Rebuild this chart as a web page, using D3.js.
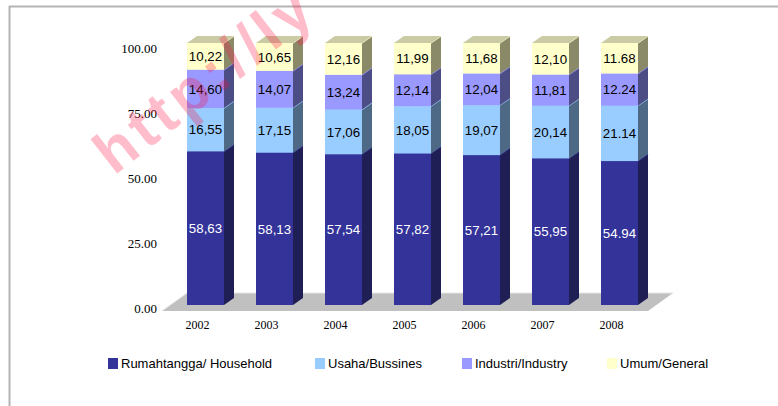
<!DOCTYPE html>
<html>
<head>
<meta charset="utf-8">
<script src="https://cdn.jsdelivr.net/npm/d3@7"></script>
<style>
  html, body { margin: 0; padding: 0; background: #fff; }
  svg { display: block; }
</style>
</head>
<body>
<svg id="chart" width="778" height="406"></svg>
<script>
const years = ["2002", "2003", "2004", "2005", "2006", "2007", "2008"];
const household = [58.63, 58.13, 57.54, 57.82, 57.21, 55.95, 54.94];
const business  = [16.55, 17.15, 17.06, 18.05, 19.07, 20.14, 21.14];
const industry  = [14.60, 14.07, 13.24, 12.14, 12.04, 11.81, 12.24];
const general   = [10.22, 10.65, 12.16, 11.99, 11.68, 12.10, 11.68];
const decimalMark = [",", ",", ",", ",", ",", ",", "."];
const seriesKeys = ["household", "business", "industry", "general"];
const seriesNames = ["Rumahtangga/ Household", "Usaha/Bussines", "Industri/Industry", "Umum/General"];
const yTicks = [0, 25, 50, 75, 100];

const frontColors = ["#333399", "#99ccff", "#9999ff", "#ffffcc"];
const sideColors  = ["#1f1f55", "#4d6985", "#4d4d85", "#8a8a68"];
const topColors   = ["#29297a", "#7aa3cc", "#7a7acc", "#cacaa4"];
const labelColors = ["#ffffff", "#000000", "#000000", "#000000"];
const legendX = [108, 315, 462, 607];

const svg = d3.select("#chart");

// frame
svg.append("line").attr("x1", 9).attr("x2", 778).attr("y1", 6.5).attr("y2", 6.5)
  .attr("stroke", "#b4b4b4").attr("stroke-width", 2);
svg.append("line").attr("x1", 9.5).attr("x2", 9.5).attr("y1", 6).attr("y2", 406)
  .attr("stroke", "#b4b4b4").attr("stroke-width", 2);

const table = years.map((yr, i) => ({
  year: yr, idx: i,
  household: household[i], business: business[i], industry: industry[i], general: general[i]
}));
const stacked = d3.stack().keys(seriesKeys)(table);

const x = d3.scaleBand().domain(years).range([171, 654]).paddingInner(0.4638).paddingOuter(0.2319);
const y = d3.scaleLinear().domain([0, 100]).range([305, 43]);
const yAxisScale = d3.scaleLinear().domain([0, 100]).range([308, 48]);

const dx = 10, dy = -7;        // bar depth
const fdx = 25, fdy = -18;     // floor depth

// floor
const fl = x.range()[0] - 9, fr = x.range()[1] - 6, fy = y(0) + 6;
svg.append("path")
  .attr("d", `M${fl},${fy} L${fr},${fy} L${fr + fdx},${fy + fdy} L${fl + fdx},${fy + fdy} Z`)
  .attr("fill", "#c0c0c0");
svg.append("path")
  .attr("d", `M${fl},${fy} L${fl + fdx},${fy + fdy} L${fr + fdx},${fy + fdy}`)
  .attr("fill", "none").attr("stroke", "#e6e6e6").attr("stroke-width", 1);

// y axis
const yAxis = d3.axisLeft(yAxisScale).tickValues(yTicks).tickFormat(d3.format(".2f")).tickSize(0).tickPadding(0);
const gy = svg.append("g").attr("transform", "translate(157,0)").call(yAxis);
gy.select(".domain").remove();
gy.selectAll("text").attr("font-family", "'Liberation Serif', 'Times New Roman', serif")
  .attr("font-size", 13).attr("fill", "#000");

// x labels
svg.append("g").selectAll("text").data(years).join("text")
  .attr("x", d => x(d) + x.bandwidth() / 2 - 8)
  .attr("y", 329)
  .attr("text-anchor", "middle")
  .attr("font-family", "'Liberation Serif', 'Times New Roman', serif")
  .attr("font-size", 12)
  .attr("fill", "#000")
  .text(d => d);

// bars
const w = x.bandwidth();
const barsG = svg.append("g");
stacked.forEach((layer, si) => {
  const g = barsG.append("g");
  layer.forEach(d => {
    const x0 = x(d.data.year);
    const yb = y(d[0]), yt = y(d[1]);
    g.append("rect").attr("x", x0).attr("y", yt).attr("width", w).attr("height", yb - yt)
      .attr("fill", frontColors[si]);
    g.append("path")
      .attr("d", `M${x0 + w},${yb} L${x0 + w + dx},${yb + dy} L${x0 + w + dx},${yt + dy} L${x0 + w},${yt} Z`)
      .attr("fill", sideColors[si]);
    g.append("path")
      .attr("d", `M${x0},${yt} L${x0 + w},${yt} L${x0 + w + dx},${yt + dy}`)
      .attr("fill", "none").attr("stroke", frontColors[si]).attr("stroke-width", 1.2)
      .attr("stroke-opacity", 0.9);
    if (si === stacked.length - 1) {
      g.append("path")
        .attr("d", `M${x0},${yt} L${x0 + w},${yt} L${x0 + w + dx},${yt + dy} L${x0 + dx},${yt + dy} Z`)
        .attr("fill", topColors[si]);
    }
  });
});

// value labels
stacked.forEach((layer, si) => {
  svg.append("g").selectAll("text").data(layer).join("text")
    .attr("x", d => x(d.data.year) + w / 2)
    .attr("y", d => (y(d[0]) + y(d[1])) / 2)
    .attr("dy", "0.35em")
    .attr("text-anchor", "middle")
    .attr("font-family", "'Liberation Sans', Arial, sans-serif")
    .attr("font-size", 13.3)
    .attr("fill", labelColors[si])
    .text(d => (d[1] - d[0]).toFixed(2).replace(".", decimalMark[d.data.idx]));
});

// legend
const legend = svg.append("g");
seriesNames.forEach((name, i) => {
  const lx = legendX[i];
  legend.append("rect").attr("x", lx).attr("y", 358).attr("width", 10).attr("height", 11)
    .attr("fill", frontColors[i]);
  legend.append("text").attr("x", lx + 13).attr("y", 368)
    .attr("font-family", "'Liberation Sans', Arial, sans-serif").attr("font-size", 13)
    .attr("fill", "#000").text(name);
});

// watermark
svg.append("text")
  .attr("transform", "translate(114,176) rotate(-38)")
  .attr("font-family", "'Liberation Sans', Arial, sans-serif")
  .attr("font-weight", "bold")
  .attr("font-size", 60)
  .attr("letter-spacing", 5)
  .attr("fill", "#ff1040")
  .attr("fill-opacity", 0.28)
  .text("http://ly");
</script>
</body>
</html>
